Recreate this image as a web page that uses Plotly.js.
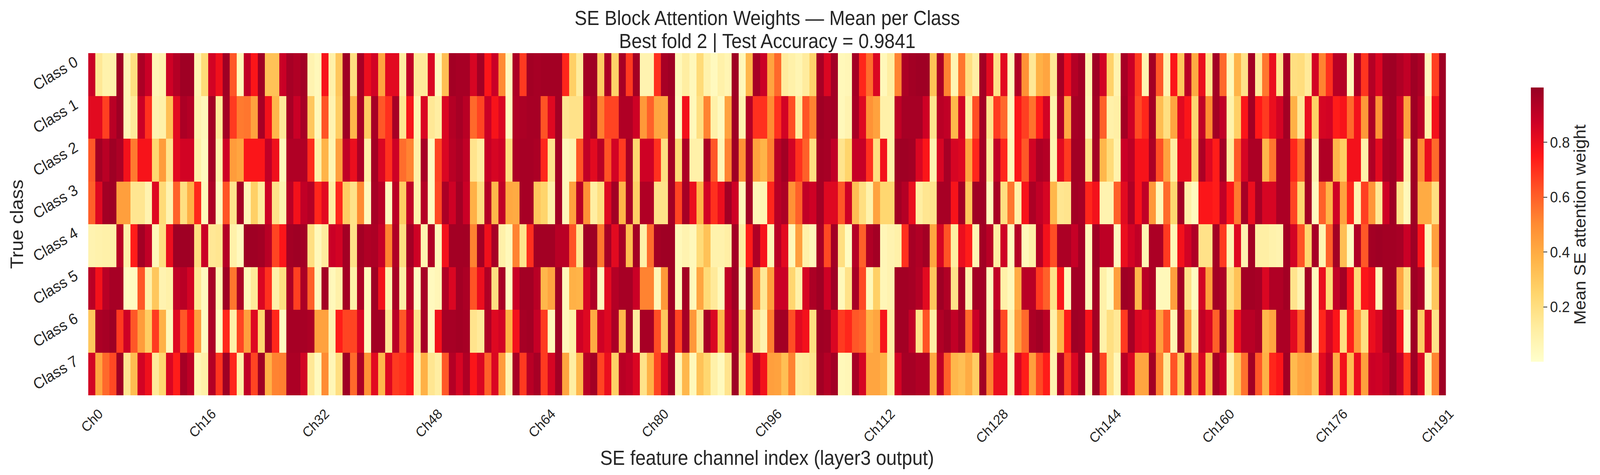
<!DOCTYPE html>
<html>
<head>
<meta charset="utf-8">
<script src="https://cdn.plot.ly/plotly-3.0.1.min.js"></script>
<style>html,body{margin:0;padding:0;background:#fff;overflow:hidden}</style>
</head>
<body>
<div id="chart" style="width:4373px;height:1216px;transform-origin:0 0"></div>
<script>
// mean SE weight per channel
const class0 = [
  .88,.15,.09,.09,.98,.06,.2,.95,.88,.06,.08,.87,.93,.98,.98,.07,.22,.86,.79,.98,.62,.05,.9,.76,.98,.32,.32,.88,.96,.94,.97,.08,.05,.77,.1,.3,
  .98,.2,.96,.8,.86,.42,.82,.82,.12,.9,.14,.14,.84,.04,.33,.97,.96,.96,.85,.97,.76,.88,.5,.04,.95,.68,.97,.96,.97,.97,.97,.72,.27,.13,.97,
  .98,.28,.95,.26,.96,.68,.97,.08,.08,.7,.96,.98,.05,.12,.05,.22,.09,.04,.1,.07,.98,.05,.36,.96,.88,.42,.58,.13,.1,.07,.13,.25,.96,.84,.97,
  .05,.06,.97,.72,.57,.84,.05,.12,.52,.95,.97,.98,.98,.32,.95,.52,.07,.55,.2,.11,.97,.82,.18,.82,.04,.94,.48,.15,.38,.42,.15,.97,.8,.93,.97,.07,
  .98,.86,.26,.08,.96,.88,.68,.08,.97,.62,.08,.76,.3,.92,.4,.8,.17,.97,.58,.05,.37,.18,.97,.14,.55,.8,.16,.96,.2,.21,.14,.86,.52,.7,.92,
  .93,.05,.95,.69,.93,.84,.97,.98,.94,.9,.98,.95,.04,.67,.98
];
const class1 = [
  .82,.82,.67,.92,.98,.06,.14,.88,.7,.08,.1,.33,.82,.95,.93,.08,.05,.97,.14,.97,.68,.54,.55,.43,.96,.78,.36,.14,.96,.88,.96,.3,.05,.63,.08,.28,
  .98,.36,.96,.28,.96,.62,.7,.96,.16,.77,.08,.84,.15,.12,.84,.93,.96,.92,.58,.66,.88,.77,.84,.04,.94,.95,.96,.96,.63,.83,.97,.16,.18,.18,.9,
  .96,.53,.66,.66,.94,.94,.87,.46,.6,.42,.41,.97,.04,.78,.05,.2,.52,.1,.04,.43,.98,.08,.93,.7,.7,.5,.7,.86,.64,.13,.63,.52,.98,.96,.97,
  .05,.08,.96,.83,.48,.43,.1,.1,.91,.96,.96,.96,.87,.17,.92,.9,.36,.86,.13,.64,.97,.17,.68,.58,.04,.76,.67,.56,.74,.86,.09,.94,.4,.96,.97,.06,
  .97,.6,.1,.11,.97,.87,.65,.72,.97,.34,.2,.42,.82,.76,.24,.9,.5,.97,.9,.09,.27,.76,.97,.75,.68,.8,.86,.97,.38,.15,.8,.27,.85,.86,.74,
  .77,.58,.78,.46,.95,.48,.96,.98,.87,.43,.98,.92,.1,.78,.98
];
const class2 = [
  .62,.97,.92,.98,.95,.78,.54,.77,.77,.24,.45,.17,.82,.86,.86,.1,.04,.97,.09,.87,.45,.42,.76,.76,.76,.9,.79,.05,.94,.94,.94,.71,.1,.37,.07,.44,
  .9,.8,.95,.1,.97,.84,.7,.87,.57,.52,.1,.96,.03,.66,.84,.92,.95,.9,.17,.12,.89,.85,.87,.2,.95,.96,.96,.95,.72,.17,.97,.05,.08,.63,.9,
  .82,.92,.63,.86,.68,.96,.24,.87,.87,.7,.2,.97,.22,.95,.1,.1,.95,.62,.06,.52,.98,.48,.96,.43,.37,.53,.92,.97,.86,.7,.6,.2,.97,.96,.9,
  .17,.25,.89,.89,.7,.2,.78,.1,.98,.98,.97,.84,.76,.08,.85,.96,.85,.83,.42,.72,.97,.13,.9,.72,.05,.76,.62,.86,.95,.93,.08,.82,.68,.97,.97,.18,
  .97,.36,.22,.09,.88,.91,.77,.77,.95,.64,.43,.12,.8,.8,.28,.95,.83,.74,.97,.13,.62,.85,.95,.95,.36,.55,.95,.95,.72,.58,.97,.08,.94,.94,.36,
  .28,.78,.78,.1,.94,.82,.96,.98,.89,.1,.98,.5,.8,.58,.98
];
const class3 = [
  .6,.83,.97,.98,.44,.44,.16,.16,.08,.83,.22,.08,.6,.2,.38,.72,.05,.95,.04,.63,.17,.97,.06,.27,.13,.87,.18,.08,.92,.78,.9,.93,.72,.82,.12,.72,
  .28,.18,.5,.04,.96,.92,.04,.92,.28,.9,.09,.93,.03,.65,.95,.87,.97,.88,.38,.2,.93,.36,.9,.41,.4,.96,.96,.3,.25,.1,.97,.05,.43,.92,.48,
  .12,.2,.83,.97,.37,.96,.27,.94,.94,.18,.18,.97,.66,.96,.8,.37,.86,.7,.8,.97,.87,.05,.97,.06,.07,.72,.92,.95,.48,.6,.9,.87,.97,.83,.83,
  .62,.87,.33,.2,.09,.43,.24,.24,.97,.93,.8,.12,.16,.17,.96,.96,.77,.97,.3,.98,.98,.04,.96,.2,.55,.1,.77,.95,.9,.85,.36,.16,.17,.97,.96,.72,
  .78,.08,.08,.6,.82,.94,.77,.9,.46,.05,.58,.24,.97,.1,.04,.76,.76,.74,.9,.76,.54,.96,.8,.96,.85,.85,.95,.95,.66,.24,.97,.04,.6,.37,.87,
  .43,.72,.08,.67,.47,.15,.87,.98,.18,.05,.98,.4,.4,.2,.98
];
const class4 = [
  .08,.09,.1,.1,.92,.1,.74,.97,.9,.05,.2,.8,.98,.98,.98,.2,.88,.15,.16,.93,.1,.04,.98,.98,.97,.92,.66,.76,.97,.98,.97,.2,.05,.13,.88,.86,
  .97,.18,.97,.94,.95,.89,.52,.94,.2,.97,.87,.08,.94,.05,.78,.97,.97,.97,.52,.97,.79,.96,.1,.05,.52,.17,.7,.97,.97,.97,.92,.92,.63,.16,.98,
  .98,.55,.96,.82,.96,.34,.97,.1,.57,.97,.98,.98,.05,.08,.05,.22,.32,.09,.09,.11,.97,.12,.74,.94,.77,.06,.92,.82,.05,.44,.1,.05,.96,.65,.97,
  .2,.03,.93,.6,.94,.97,.06,.08,.1,.7,.96,.94,.97,.42,.85,.63,.12,.8,.74,.07,.97,.92,.12,.87,.04,.93,.05,.1,.93,.78,.64,.95,.95,.89,.97,.05,
  .98,.91,.91,.04,.8,.86,.9,.07,.95,.95,.68,.06,.78,.86,.94,.18,.18,.97,.68,.07,.83,.08,.97,.11,.11,.09,.08,.97,.86,.63,.24,.96,.07,.6,.97,
  .33,.03,.94,.62,.97,.98,.97,.97,.96,.88,.98,.77,.05,.44,.98
];
const class5 = [
  .92,.78,.92,.96,.96,.03,.03,.62,.1,.3,.08,.1,.9,.92,.86,.15,.04,.96,.07,.98,.55,.95,.05,.14,.84,.7,.1,.2,.95,.67,.95,.6,.04,.97,.05,.1,
  .97,.1,.95,.04,.98,.78,.08,.96,.11,.93,.03,.96,.04,.06,.94,.84,.97,.95,.63,.8,.94,.2,.96,.03,.88,.97,.97,.92,.36,.42,.98,.05,.38,.37,.85,
  .94,.04,.82,.93,.96,.96,.88,.52,.52,.06,.46,.98,.05,.97,.05,.42,.22,.14,.05,.9,.98,.05,.97,.5,.15,.44,.88,.88,.24,.1,.85,.95,.98,.87,.98,
  .05,.18,.96,.65,.05,.27,.06,.08,.97,.97,.96,.93,.82,.3,.98,.94,.18,.97,.09,.97,.97,.04,.9,.1,.05,.4,.92,.92,.68,.6,.18,.76,.05,.97,.97,.05,
  .97,.1,.03,.44,.98,.97,.36,.92,.95,.05,.05,.44,.97,.18,.03,.86,.44,.97,.95,.2,.32,.97,.97,.96,.84,.94,.94,.97,.17,.08,.97,.04,.8,.22,.9,
  .97,.78,.22,.76,.79,.05,.97,.98,.42,.2,.98,.95,.04,.3,.98
];
const class6 = [
  .3,.95,.96,.98,.68,.87,.62,.45,.28,.68,.38,.05,.83,.62,.76,.44,.03,.95,.03,.72,.1,.66,.44,.83,.24,.97,.72,.03,.96,.96,.96,.95,.43,.43,.08,.74,
  .66,.66,.84,.04,.97,.97,.15,.92,.62,.86,.17,.96,.03,.78,.96,.96,.97,.96,.17,.14,.94,.83,.86,.38,.78,.96,.97,.89,.68,.05,.98,.05,.1,.87,.83,
  .4,.87,.83,.95,.36,.97,.13,.96,.96,.64,.3,.98,.66,.96,.46,.17,.96,.84,.36,.88,.96,.26,.96,.18,.08,.53,.97,.97,.64,.82,.78,.2,.98,.97,.84,
  .68,.72,.62,.6,.38,.42,.77,.11,.97,.97,.9,.18,.63,.11,.94,.97,.9,.96,.58,.88,.97,.05,.95,.65,.09,.45,.58,.95,.97,.92,.1,.37,.74,.98,.97,.77,
  .97,.1,.2,.15,.68,.96,.84,.82,.88,.44,.62,.07,.96,.44,.12,.9,.85,.6,.97,.36,.8,.92,.92,.95,.36,.42,.95,.95,.82,.63,.97,.04,.72,.85,.76,
  .2,.73,.45,.2,.8,.84,.96,.98,.78,.04,.98,.28,.85,.18,.98
];
const class7 = [
  .86,.42,.58,.65,.98,.16,.34,.86,.79,.14,.24,.84,.74,.96,.91,.07,.1,.93,.69,.98,.72,.1,.9,.66,.98,.38,.52,.53,.95,.95,.86,.15,.04,.5,.06,.2,
  .98,.58,.95,.48,.82,.36,.83,.68,.7,.76,.12,.38,.16,.12,.62,.93,.85,.94,.76,.84,.6,.84,.45,.08,.96,.68,.92,.96,.68,.85,.97,.42,.12,.36,.92,
  .97,.66,.8,.27,.92,.9,.84,.18,.38,.66,.84,.97,.07,.36,.05,.32,.24,.1,.04,.17,.98,.2,.7,.9,.78,.44,.43,.33,.52,.13,.14,.17,.97,.93,.97,
  .05,.06,.96,.85,.42,.42,.38,.12,.86,.96,.96,.94,.94,.41,.9,.6,.36,.33,.4,.28,.97,.52,.8,.8,.04,.84,.74,.44,.65,.74,.08,.93,.66,.84,.98,.05,
  .98,.66,.2,.06,.92,.84,.42,.42,.97,.52,.14,.63,.29,.9,.46,.84,.36,.96,.88,.08,.31,.56,.97,.62,.38,.72,.76,.97,.35,.42,.44,.3,.82,.9,.4,
  .78,.34,.8,.44,.88,.87,.9,.98,.89,.7,.98,.84,.12,.52,.98
];
const classNames = ["Class 0", "Class 1", "Class 2", "Class 3", "Class 4", "Class 5", "Class 6", "Class 7"];
const channels = class0.map((_, i) => i);
const channelTicks = [0, 16, 32, 48, 64, 80, 96, 112, 128, 144, 160, 176, 191];
const channelLabels = channelTicks.map(c => "Ch" + c);

const font = "Liberation Sans, Arial, sans-serif";
const ink = "#262626";

const trace = {
  type: "heatmap",
  x: channels,
  y: classNames,
  z: [class0, class1, class2, class3, class4, class5, class6, class7],
  zmin: 0,
  zmax: 1,
  colorscale: [
    [0, "#ffffcc"],
    [0.125, "#ffeda0"],
    [0.25, "#ffd56c"],
    [0.375, "#ffb347"],
    [0.5, "#ff8c33"],
    [0.625, "#ff5526"],
    [0.75, "#ff1718"],
    [0.875, "#cc0026"],
    [1, "#960024"]
  ],
  colorbar: {
    thicknessmode: "pixels",
    thickness: 35,
    lenmode: "pixels",
    len: 702,
    x: 1.0625,
    xanchor: "left",
    xpad: 0,
    y: 0.8995,
    yanchor: "top",
    ypad: 0,
    outlinewidth: 0,
    tickmode: "array",
    tickvals: [0.2, 0.4, 0.6, 0.8],
    ticktext: ["0.2", "0.4", "0.6", "0.8"],
    ticks: "outside",
    ticklen: 10,
    tickwidth: 2,
    tickcolor: "#333",
    tickfont: { family: font, size: 39, color: ink },
    title: { text: "Mean SE attention weight", side: "right", font: { family: font, size: 45, color: ink } }
  }
};

const layout = {
  width: 4373,
  height: 1216,
  margin: { l: 241, r: 421, t: 136, b: 204, pad: 0 },
  paper_bgcolor: "#fff",
  plot_bgcolor: "#fff",
  title: {
    text: "SE Block Attention Weights \u2014 Mean per Class",
    font: { family: font, size: 51, color: ink },
    x: 0.4795,
    xanchor: "center",
    y: 0.962,
    yanchor: "middle"
  },
  annotations: [{
    text: "Best fold 2 | Test Accuracy = 0.9841",
    xref: "paper", yref: "paper",
    x: 0.5, xanchor: "center",
    y: 1.0, yanchor: "bottom",
    showarrow: false,
    font: { family: font, size: 51, color: ink }
  }],
  xaxis: {
    tickmode: "array",
    tickvals: channelTicks,
    ticktext: channelLabels,
    tickangle: -45,
    ticks: "",
    ticklabelstandoff: 18,
    ticklabelshift: 20,
    tickfont: { family: font, size: 36, color: ink },
    showgrid: false,
    zeroline: false,
    showline: false,
    title: { text: "SE feature channel index (layer3 output)", font: { family: font, size: 51, color: ink }, standoff: 12 }
  },
  yaxis: {
    autorange: "reversed",
    tickangle: -30,
    ticks: "",
    ticklabelstandoff: 34,
    ticklabelshift: 36,
    tickfont: { family: font, size: 40, color: ink },
    showgrid: false,
    zeroline: false,
    showline: false,
    title: { text: "True class", font: { family: font, size: 50, color: ink }, standoff: 2 }
  }
};

// the window is narrower than the page size asked for, so fit the page to it
const chart = document.getElementById("chart");
chart.style.transform = "scaleX(" + Math.min(1, window.innerWidth / 4373) + ")";
Plotly.newPlot("chart", [trace], layout, { displayModeBar: false, staticPlot: true });
</script>
</body>
</html>
